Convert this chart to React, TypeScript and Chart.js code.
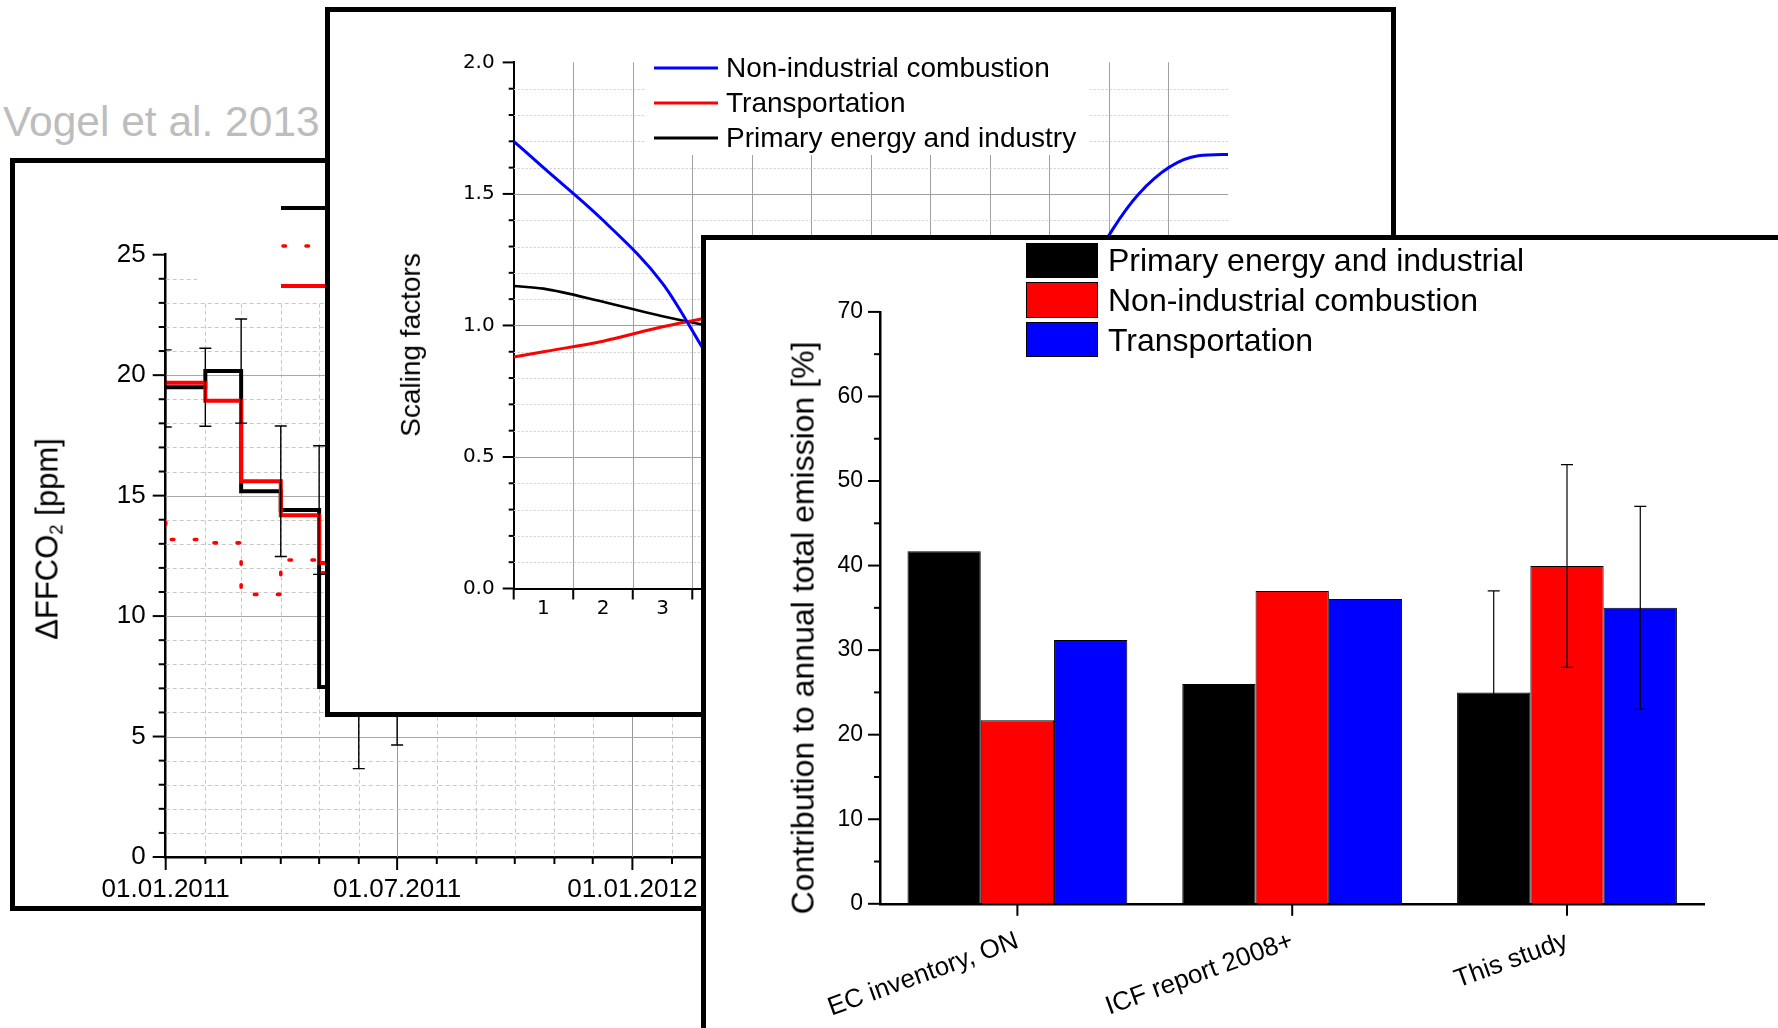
import React, { useEffect, useRef } from 'react';
import { Chart, registerables } from 'chart.js';

Chart.register(...registerables);

const FONT = '"Liberation Sans", Arial, Helvetica, sans-serif';
const FONT_WIDE = '"DejaVu Sans", Verdana, sans-serif';
const BORDER = 5;

/* ---------------- Panel 1 data (Vogel et al. 2013, monthly ΔFFCO2) ---------------- */
const p1Dates = ['2011-01-01', '2011-02-01', '2011-03-01', '2011-04-01', '2011-05-01', '2011-06-01', '2011-07-01', '2011-08-01', '2011-09-01', '2011-10-01', '2011-11-01', '2011-12-01', '2012-01-01', '2012-02-01', '2012-03-01'];
const p1Observed = [19.45, 19.5, 20.17, 15.18, 14.4, 7.06, 7.5, 8.2, 9.0, 10.5, 12.5, 14.5, 16.0, 17.0, 17.5];
const p1ObservedErr = [1.6, 1.62, 2.16, 2.71, 2.67, 3.39, 2.85, 1.5, 1.5, 1.5, 1.5, 1.5, 1.5, 1.5, 1.5];
const p1Modelled = [19.7, 19.69, 18.94, 15.6, 14.19, 12.2, 9.0, 8.5, 9.0, 10.0, 12.0, 14.0, 15.5, 16.5, 17.0];
const p1Prior = [13.9, 13.18, 13.04, 10.9, 12.33, 11.8, 9.0, 9.0, 9.5, 10.0, 11.0, 12.0, 13.0, 13.5, 13.5];
const p1AxisStart = '2011-01-01';
const p1AxisEnd = '2012-03-06';
const p1YMax = 25;
const p1YLabelStep = 5;
const p1LabelMonths = [1, 7];

/* ---------------- Panel 2 data (monthly scaling factors) ---------------- */
const p2Months = [0.5, 1, 2, 3, 4, 5, 6, 7, 8, 9, 10, 11, 12, 12.5];
const p2NonIndustrial = [1.7, 1.6, 1.4, 1.16, 0.8, 0.55, 0.42, 0.4, 0.5, 0.72, 1.15, 1.5, 1.645, 1.65];
const p2Transportation = [0.88, 0.9, 0.94, 0.995, 1.04, 1.08, 1.1, 1.1, 1.09, 1.06, 1.02, 0.97, 0.92, 0.9];
const p2PrimaryEnergy = [1.15, 1.14, 1.09, 1.035, 0.99, 0.96, 0.95, 0.95, 0.96, 0.98, 1.02, 1.07, 1.12, 1.14];
const p2Names = ['Non-industrial combustion', 'Transportation', 'Primary energy and industry'];
const p2Colors = ['#0000ff', '#ff0000', '#000000'];
const p2YMax = 2;

/* ---------------- Panel 3 data (contribution to annual total emission) ---------------- */
const p3Categories = ['EC inventory, ON', 'ICF report 2008+', 'This study'];
const p3Primary = [41.7, 26.0, 25.0];
const p3NonIndustrial = [21.7, 37.0, 39.95];
const p3Transportation = [31.2, 36.05, 35.0];
const p3PrimaryErr = [0, 0, 12];
const p3NonIndustrialErr = [0, 0, 12];
const p3TransportationErr = [0, 0, 12];
const p3Names = ['Primary energy and industrial', 'Non-industrial combustion', 'Transportation'];
const p3Colors = ['#000000', '#ff0000', '#0000ff'];
const p3YMax = 70;

/* ---------------- layout (page pixels) ---------------- */
const P1 = { left: 10, top: 158, width: 760, height: 753 };
const P2 = { left: 325, top: 7, width: 1071, height: 710 };
const P3 = { left: 701, top: 235, width: 1100, height: 820 };
const inner = (p: any) => ({ x: p.left + BORDER, y: p.top + BORDER, w: p.width - 2 * BORDER, h: p.height - 2 * BORDER });

const DAY = 86400000;
const toDay = (s: string) => (Date.parse(s + 'T00:00:00Z') - Date.parse(p1AxisStart + 'T00:00:00Z')) / DAY;

function monthTicks() {
  const end = toDay(p1AxisEnd);
  const [y0, m0] = p1AxisStart.split('-').map(Number);
  const out: { value: number; month: number; year: number }[] = [];
  for (let k = 0; k < 100; k++) {
    const y = y0 + Math.floor((m0 - 1 + k) / 12);
    const m = ((m0 - 1 + k) % 12) + 1;
    const d = toDay(`${y}-${String(m).padStart(2, '0')}-01`);
    if (d > end) break;
    out.push({ value: d, month: m, year: y });
  }
  return out;
}

type GridSpec = { color: string; dash?: number[]; width?: number } | null;
type AxisDecor = { axis: string; grid?: (v: number, i: number) => GridSpec; tick?: (v: number, i: number) => number; tickWidth?: number };

function decorPlugin(id: string, specs: AxisDecor[]) {
  return {
    id,
    beforeDatasetsDraw(chart: any) {
      const { ctx, chartArea: a } = chart;
      for (const s of specs) {
        if (!s.grid) continue;
        const sc = chart.scales[s.axis];
        sc.ticks.forEach((t: any, i: number) => {
          const g = s.grid!(t.value, i);
          if (!g) return;
          const p = Math.round(sc.getPixelForTick(i)) + 0.5;
          ctx.save();
          ctx.strokeStyle = g.color;
          ctx.lineWidth = g.width ?? 1;
          ctx.setLineDash(g.dash ?? []);
          ctx.beginPath();
          if (sc.isHorizontal()) { ctx.moveTo(p, a.top); ctx.lineTo(p, a.bottom); }
          else { ctx.moveTo(a.left, p); ctx.lineTo(a.right, p); }
          ctx.stroke();
          ctx.restore();
        });
      }
    },
    afterDraw(chart: any) {
      const { ctx } = chart;
      for (const s of specs) {
        if (!s.tick) continue;
        const sc = chart.scales[s.axis];
        ctx.save();
        ctx.strokeStyle = '#000';
        ctx.lineWidth = s.tickWidth ?? 2;
        sc.ticks.forEach((t: any, i: number) => {
          const len = s.tick!(t.value, i);
          if (!len) return;
          const p = sc.getPixelForTick(i);
          ctx.beginPath();
          if (sc.isHorizontal()) { ctx.moveTo(p, sc.top); ctx.lineTo(p, sc.top + len); }
          else { ctx.moveTo(sc.right, p); ctx.lineTo(sc.right - len, p); }
          ctx.stroke();
        });
        ctx.restore();
      }
    },
  };
}

function errorBarPlugin(id: string, items: (chart: any) => { x: number; lo: number; hi: number }[], cap: number, width: number) {
  return {
    id,
    afterDatasetsDraw(chart: any) {
      const { ctx, chartArea: a } = chart;
      ctx.save();
      ctx.beginPath();
      ctx.rect(a.left, a.top - 1, a.right - a.left, a.bottom - a.top + 2);
      ctx.clip();
      ctx.strokeStyle = '#000';
      ctx.lineWidth = width;
      for (const it of items(chart)) {
        ctx.beginPath();
        ctx.moveTo(it.x, it.lo); ctx.lineTo(it.x, it.hi);
        ctx.moveTo(it.x - cap, it.lo); ctx.lineTo(it.x + cap, it.lo);
        ctx.moveTo(it.x - cap, it.hi); ctx.lineTo(it.x + cap, it.hi);
        ctx.stroke();
      }
      ctx.restore();
    },
  };
}

const range = (n: number) => Array.from({ length: n }, (_, i) => i);
const NO_GRID = { display: false, drawTicks: false };

/* ---------------- chart configs ---------------- */
function p1Config() {
  const c = inner(P1);
  const area = { left: 165.7 - c.x, top: 254.7 - c.y, right: 715.5 - c.x, bottom: 857 - c.y };
  const months = monthTicks();
  const find = (v: number) => months.find((m) => Math.abs(m.value - v) < 1e-6);
  const isMajor = (v: number) => { const m = find(v); return !!m && p1LabelMonths.includes(m.month); };
  const pts = (vals: number[]) => p1Dates.map((d, i) => ({ x: toDay(d), y: vals[i] }));
  return {
    type: 'line',
    data: {
      datasets: [
        { data: pts(p1Modelled), borderColor: '#ff0000', borderWidth: 4, stepped: 'after', pointRadius: 0, fill: false },
        { data: pts(p1Prior), borderColor: '#ff0000', borderWidth: 3.6, borderDash: [2.5, 20.5], borderCapStyle: 'round', stepped: 'after', pointRadius: 0, fill: false },
        { data: pts(p1Observed), borderColor: '#000000', borderWidth: 4, stepped: 'after', pointRadius: 0, fill: false },
      ],
    },
    options: {
      animation: false, responsive: false, devicePixelRatio: 1,
      layout: { padding: { left: 0, top: area.top, right: c.w - area.right, bottom: 0 } },
      plugins: { legend: { display: false }, tooltip: { enabled: false } },
      scales: {
        x: {
          type: 'linear', min: 0, max: toDay(p1AxisEnd),
          afterBuildTicks: (s: any) => { s.ticks = months.map((m) => ({ value: m.value })); },
          grid: NO_GRID,
          border: { display: true, color: '#000', width: 2.5 },
          ticks: {
            autoSkip: false, maxRotation: 0, minRotation: 0, padding: 17, color: '#000',
            font: { family: FONT, size: 26 },
            callback: (v: number) => { const m = find(v); return m && p1LabelMonths.includes(m.month) ? `01.${String(m.month).padStart(2, '0')}.${m.year}` : ''; },
          },
          afterFit: (s: any) => { s.height = c.h - area.bottom; s.paddingLeft = 0; s.paddingRight = 0; },
        },
        y: {
          type: 'linear', min: 0, max: p1YMax,
          afterBuildTicks: (s: any) => { s.ticks = range(p1YMax + 1).map((v) => ({ value: v })); },
          grid: NO_GRID,
          border: { display: true, color: '#000', width: 2.5 },
          ticks: {
            autoSkip: false, padding: 20, color: '#000', font: { family: FONT, size: 26 },
            callback: (v: number) => (v % p1YLabelStep === 0 ? String(v) : ''),
          },
          afterFit: (s: any) => { s.width = area.left; s.paddingTop = 0; s.paddingBottom = 0; },
        },
      },
    },
    plugins: [
      decorPlugin('p1decor', [
        {
          axis: 'x',
          grid: (v) => (v === 0 ? null : isMajor(v) ? { color: '#9a9a9a' } : { color: '#c8c8c8', dash: [4, 3] }),
          tick: (v) => (isMajor(v) ? 13 : 7),
        },
        {
          axis: 'y',
          grid: (v) => (v === 0 || v === p1YMax ? null : v % p1YLabelStep === 0 ? { color: '#a8a8a8' } : { color: '#c8c8c8', dash: [4, 3] }),
          tick: (v) => (v % p1YLabelStep === 0 ? 13 : 7),
        },
      ]),
      errorBarPlugin('p1err', (chart) => {
        const xs = chart.scales.x, ys = chart.scales.y;
        return p1Dates.map((d, i) => ({
          x: xs.getPixelForValue(toDay(d)),
          lo: ys.getPixelForValue(p1Observed[i] - p1ObservedErr[i]),
          hi: ys.getPixelForValue(p1Observed[i] + p1ObservedErr[i]),
        }));
      }, 6, 1.4),
    ],
  };
}

function p2Config() {
  const c = inner(P2);
  const area = { left: 513.7 - c.x, top: 62.4 - c.y, right: 1228 - c.x, bottom: 588.5 - c.y };
  const xTicks = range(25).map((i) => 0.5 + i * 0.5);
  const yTicks = range(p2YMax * 10 + 1).map((i) => i / 10);
  const series = [p2NonIndustrial, p2Transportation, p2PrimaryEnergy];
  const xh = 60;
  return {
    type: 'line',
    data: {
      datasets: series.map((vals, k) => ({
        label: p2Names[k],
        data: p2Months.map((m, i) => ({ x: m, y: vals[i] })),
        borderColor: p2Colors[k], borderWidth: k === 2 ? 2.6 : 3, pointRadius: 0,
        cubicInterpolationMode: 'monotone', fill: false,
      })),
    },
    options: {
      animation: false, responsive: false, devicePixelRatio: 1,
      layout: { padding: { left: 0, top: area.top, right: c.w - area.right, bottom: c.h - area.bottom - xh } },
      plugins: { legend: { display: false }, tooltip: { enabled: false } },
      scales: {
        x: {
          type: 'linear', min: 0.5, max: 12.5,
          afterBuildTicks: (s: any) => { s.ticks = xTicks.map((v) => ({ value: v })); },
          grid: NO_GRID,
          border: { display: true, color: '#000', width: 2 },
          ticks: {
            autoSkip: false, maxRotation: 0, minRotation: 0, padding: 8, color: '#000',
            font: { family: FONT_WIDE, size: 20 },
            callback: (v: number) => (Number.isInteger(v) ? String(v) : ''),
          },
          afterFit: (s: any) => { s.height = xh; s.paddingLeft = 0; s.paddingRight = 0; },
        },
        y: {
          type: 'linear', min: 0, max: p2YMax,
          afterBuildTicks: (s: any) => { s.ticks = yTicks.map((v) => ({ value: v })); },
          grid: NO_GRID,
          border: { display: true, color: '#000', width: 2 },
          ticks: {
            autoSkip: false, padding: 19, color: '#000', font: { family: FONT_WIDE, size: 20 },
            callback: (v: number, i: number) => (i % 5 === 0 ? v.toFixed(1) : ''),
          },
          afterFit: (s: any) => { s.width = area.left; s.paddingTop = 0; s.paddingBottom = 0; },
        },
      },
    },
    plugins: [
      decorPlugin('p2decor', [
        {
          axis: 'x',
          grid: (v) => (Number.isInteger(v) || v <= 0.5 || v >= 12.5 ? null : { color: '#a0a0a0' }),
          tick: (v) => (Number.isInteger(v) ? 0 : 11),
        },
        {
          axis: 'y',
          grid: (_v, i) => (i === 0 || i === p2YMax * 10 ? null : i % 5 === 0 ? { color: '#a0a0a0' } : { color: '#cccccc', dash: [2, 2] }),
          tick: (_v, i) => (i % 5 === 0 ? 11 : 5),
        },
      ]),
    ],
  };
}

function p3Config() {
  const c = inner(P3);
  const area = { left: 880 - c.x, top: 311.9 - c.y, right: 1704.4 - c.x, bottom: 903.8 - c.y };
  const xh = 120;
  const vals = [p3Primary, p3NonIndustrial, p3Transportation];
  const errs = [p3PrimaryErr, p3NonIndustrialErr, p3TransportationErr];
  return {
    type: 'bar',
    data: {
      labels: p3Categories,
      datasets: vals.map((v, k) => ({
        label: p3Names[k], data: v, backgroundColor: p3Colors[k], borderColor: '#000', borderWidth: 1,
        categoryPercentage: 0.8, barPercentage: 1.0,
      })),
    },
    options: {
      animation: false, responsive: false, devicePixelRatio: 1,
      layout: { padding: { left: 0, top: area.top, right: c.w - area.right, bottom: c.h - area.bottom - xh } },
      plugins: { legend: { display: false }, tooltip: { enabled: false } },
      scales: {
        x: {
          type: 'category',
          grid: NO_GRID,
          border: { display: true, color: '#000', width: 2.5 },
          ticks: { autoSkip: false, minRotation: 20, maxRotation: 20, padding: 22, color: '#000', font: { family: FONT, size: 26 } },
          afterFit: (s: any) => { s.height = xh; s.paddingLeft = 0; s.paddingRight = 0; },
        },
        y: {
          type: 'linear', min: 0, max: p3YMax,
          afterBuildTicks: (s: any) => { s.ticks = range(p3YMax / 5 + 1).map((i) => ({ value: i * 5 })); },
          grid: NO_GRID,
          border: { display: true, color: '#000', width: 2.5 },
          ticks: {
            autoSkip: false, padding: 17, color: '#000', font: { family: FONT, size: 23 },
            callback: (v: number) => (v % 10 === 0 ? String(v) : ''),
          },
          afterFit: (s: any) => { s.width = area.left; s.paddingTop = 0; s.paddingBottom = 0; },
        },
      },
    },
    plugins: [
      decorPlugin('p3decor', [
        { axis: 'x', tick: () => 12 },
        { axis: 'y', tick: (v) => (v % 10 === 0 ? 12 : 6) },
      ]),
      errorBarPlugin('p3err', (chart) => {
        const ys = chart.scales.y;
        const out: { x: number; lo: number; hi: number }[] = [];
        errs.forEach((e, k) => {
          const meta = chart.getDatasetMeta(k);
          e.forEach((err, j) => {
            if (!err) return;
            out.push({ x: meta.data[j].x, lo: ys.getPixelForValue(vals[k][j] - err), hi: ys.getPixelForValue(vals[k][j] + err) });
          });
        });
        return out;
      }, 6, 1.2),
    ],
  };
}

/* ---------------- components ---------------- */
function ChartCanvas({ w, h, make }: { w: number; h: number; make: () => any }) {
  const ref = useRef<HTMLCanvasElement>(null);
  useEffect(() => {
    const chart = new Chart(ref.current as HTMLCanvasElement, make());
    return () => chart.destroy();
  }, []);
  return <canvas ref={ref} width={w} height={h} style={{ position: 'absolute', left: 0, top: 0, width: w, height: h }} />;
}

function Panel({ p, z, children }: { p: any; z: number; children: any }) {
  return (
    <div style={{ position: 'absolute', left: p.left, top: p.top, width: p.width, height: p.height, boxSizing: 'border-box', border: `${BORDER}px solid #000`, background: '#fff', zIndex: z, overflow: 'hidden' }}>
      {children}
    </div>
  );
}

function VTitle({ cx, cy, size, children }: { cx: number; cy: number; size: number; children: any }) {
  return (
    <div style={{ position: 'absolute', left: cx, top: cy, transform: 'translate(-50%, -50%) rotate(-90deg)', whiteSpace: 'nowrap', fontSize: size, lineHeight: 1.15, fontFamily: FONT, color: '#000' }}>
      {children}
    </div>
  );
}

function LineSample({ x, y, w, color, width, dash }: { x: number; y: number; w: number; color: string; width: number; dash?: string }) {
  return (
    <svg style={{ position: 'absolute', left: x, top: y - 6, overflow: 'visible' }} width={w} height={12}>
      <line x1={0} y1={6} x2={w} y2={6} stroke={color} strokeWidth={width} strokeDasharray={dash} strokeLinecap={dash ? 'round' : 'butt'} />
    </svg>
  );
}

function TextAt({ x, cy, size, children }: { x: number; cy: number; size: number; children: any }) {
  return (
    <div style={{ position: 'absolute', left: x, top: cy - 30, height: 60, display: 'flex', alignItems: 'center', fontSize: size, lineHeight: 1, fontFamily: FONT, whiteSpace: 'nowrap', color: '#000' }}>
      {children}
    </div>
  );
}

export default function App() {
  const c1 = inner(P1), c2 = inner(P2), c3 = inner(P3);
  return (
    <div style={{ position: 'absolute', left: 0, top: 0, width: 1778, height: 1028, overflow: 'hidden', background: '#fff', fontFamily: FONT }}>
      <div style={{ position: 'absolute', left: 3, top: 101, fontSize: 42.5, lineHeight: '42px', color: '#bdbdbd', whiteSpace: 'nowrap', fontFamily: FONT }}>
        Vogel et al. 2013
      </div>

      <Panel p={P1} z={1}>
        <ChartCanvas w={c1.w} h={c1.h} make={p1Config} />
        <div style={{ position: 'absolute', left: 197 - c1.x, top: 170 - c1.y, width: 600, height: 131, background: '#fff' }} />
        <LineSample x={281 - c1.x} y={207.5 - c1.y} w={120} color="#000" width={4} />
        <LineSample x={283 - c1.x} y={246 - c1.y} w={120} color="#ff0000" width={3.6} dash="2.5 20.5" />
        <LineSample x={281 - c1.x} y={286 - c1.y} w={120} color="#ff0000" width={4} />
        <VTitle cx={47.6 - c1.x} cy={538.7 - c1.y} size={31}>
          ΔFFCO<sub style={{ fontSize: '0.6em', verticalAlign: '-0.25em' }}>2</sub> [ppm]
        </VTitle>
      </Panel>

      <Panel p={P2} z={2}>
        <ChartCanvas w={c2.w} h={c2.h} make={p2Config} />
        <div style={{ position: 'absolute', left: 646 - c2.x, top: 48 - c2.y, width: 442, height: 107, background: '#fff' }} />
        {p2Names.map((n, k) => (
          <React.Fragment key={n}>
            <LineSample x={654 - c2.x} y={68 + k * 35.2 - c2.y} w={64} color={p2Colors[k]} width={3} />
            <TextAt x={726 - c2.x} cy={68 + k * 35.2 - c2.y} size={28}>{n}</TextAt>
          </React.Fragment>
        ))}
        <VTitle cx={410.5 - c2.x} cy={344.7 - c2.y} size={28}>Scaling factors</VTitle>
      </Panel>

      <Panel p={P3} z={3}>
        <ChartCanvas w={c3.w} h={c3.h} make={p3Config} />
        {p3Names.map((n, k) => (
          <React.Fragment key={n}>
            <div style={{ position: 'absolute', left: 1026 - c3.x, top: 242.5 + k * 39.6 - c3.y, width: 71.5, height: 35.5, boxSizing: 'border-box', background: p3Colors[k], border: '1px solid #000' }} />
            <TextAt x={1108 - c3.x} cy={260.3 + k * 39.6 - c3.y} size={32}>{n}</TextAt>
          </React.Fragment>
        ))}
        <VTitle cx={803 - c3.x} cy={628 - c3.y} size={32}>Contribution to annual total emission [%]</VTitle>
      </Panel>
    </div>
  );
}
